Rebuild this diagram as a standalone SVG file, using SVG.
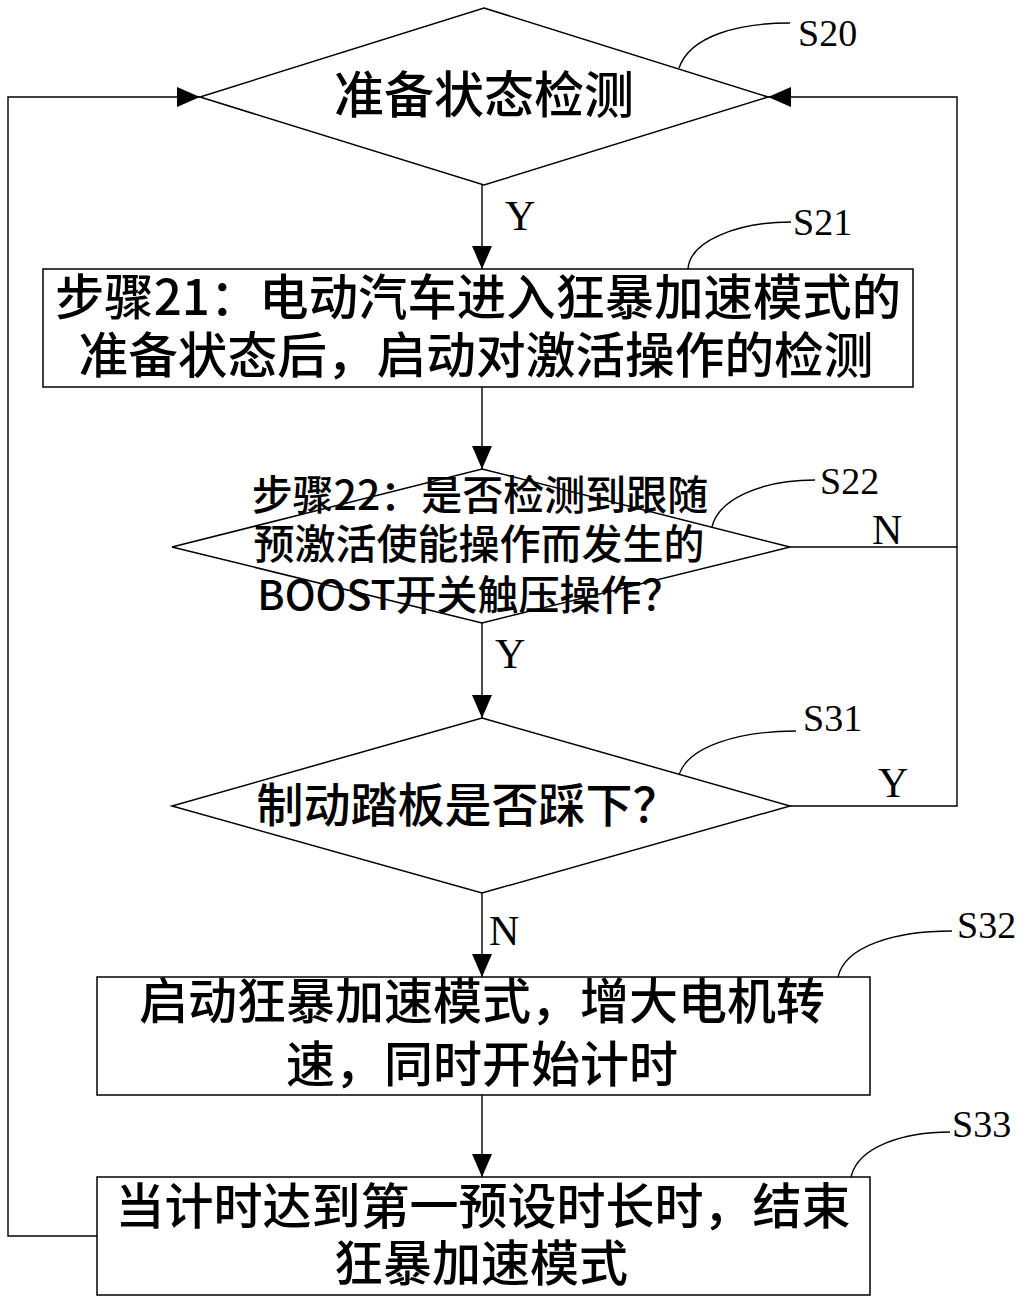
<svg xmlns="http://www.w3.org/2000/svg" width="1031" height="1303" viewBox="0 0 1031 1303">
<defs>
<marker id="arr" markerUnits="userSpaceOnUse" markerWidth="26" markerHeight="22" refX="23" refY="10" orient="auto">
<path d="M0,0 L23,10 L0,20 Z" fill="#000"/>
</marker>
<style>
.shape{fill:#fff;stroke:#000;stroke-width:1.5}
.conn{fill:none;stroke:#000;stroke-width:1.4}
.lead{fill:none;stroke:#000;stroke-width:1.4}
.zh{font-family:"Noto Sans CJK SC","Noto Sans",sans-serif;font-weight:500;fill:#000;text-anchor:middle}
.lbl{font-family:"Liberation Serif","Times New Roman",serif;fill:#000;font-size:38px}
.yn{font-family:"Liberation Serif","Times New Roman",serif;fill:#000;font-size:42px}
</style>
</defs>
<rect width="1031" height="1303" fill="#fff"/>

<g id="connectors">
<line class="conn" x1="482" y1="185" x2="482" y2="269" marker-end="url(#arr)"/>
<line class="conn" x1="482" y1="387" x2="482" y2="469" marker-end="url(#arr)"/>
<line class="conn" x1="482" y1="623" x2="482" y2="718" marker-end="url(#arr)"/>
<line class="conn" x1="482" y1="893" x2="482" y2="977" marker-end="url(#arr)"/>
<line class="conn" x1="482" y1="1095" x2="482" y2="1177" marker-end="url(#arr)"/>
<polyline class="conn" points="790,547 957,547 957,97 768,97" marker-end="url(#arr)"/>
<polyline class="conn" points="790,806 957,806 957,547"/>
<polyline class="conn" points="97,1236 8,1236 8,97 200,97" marker-end="url(#arr)"/>
<text class="yn" x="505" y="230">Y</text>
<text class="yn" x="872" y="544">N</text>
<text class="yn" x="495" y="668">Y</text>
<text class="yn" x="878" y="797">Y</text>
<text class="yn" x="489" y="945">N</text>
</g>

<g id="S20">
<polygon class="shape" points="484,8 768,97 484,185 200,97"/>
<text class="zh" x="484" y="113" font-size="50">准备状态检测</text>
<path class="lead" d="M679,68 C690,36 738,23 790,23"/>
<text class="lbl" x="798" y="46">S20</text>
</g>

<g id="S21">
<rect class="shape" x="43" y="269" width="870" height="118"/>
<text class="zh" x="478" y="315" font-size="49" textLength="846" lengthAdjust="spacingAndGlyphs">步骤21：电动汽车进入狂暴加速模式的</text>
<text class="zh" x="476" y="373" font-size="49" textLength="795" lengthAdjust="spacingAndGlyphs">准备状态后，启动对激活操作的检测</text>
<path class="lead" d="M688,269 C690,240 740,222 791,222"/>
<text class="lbl" x="793" y="235">S21</text>
</g>

<g id="S22">
<polygon class="shape" points="482,469 790,547 482,623 172,547"/>
<text class="zh" x="480" y="510" font-size="41">步骤22：是否检测到跟随</text>
<text class="zh" x="479" y="559" font-size="41">预激活使能操作而发生的</text>
<text class="zh" x="470" y="610" font-size="41">BOOST开关触压操作？</text>
<path class="lead" d="M712,527 C718,500 760,480 815,480"/>
<text class="lbl" x="820" y="494">S22</text>
</g>

<g id="S31">
<polygon class="shape" points="482,718 790,806 482,893 172,806"/>
<text class="zh" x="468" y="822" font-size="47">制动踏板是否踩下？</text>
<path class="lead" d="M679,775 C688,746 740,731 796,731"/>
<text class="lbl" x="803" y="731">S31</text>
</g>

<g id="S32">
<rect class="shape" x="97" y="977" width="773" height="118"/>
<text class="zh" x="482" y="1019" font-size="49">启动狂暴加速模式，增大电机转</text>
<text class="zh" x="482" y="1082" font-size="49">速，同时开始计时</text>
<path class="lead" d="M838,977 C845,946 895,931 952,931"/>
<text class="lbl" x="957" y="938">S32</text>
</g>

<g id="S33">
<rect class="shape" x="97" y="1177" width="773" height="118"/>
<text class="zh" x="483" y="1224" font-size="49">当计时达到第一预设时长时，结束</text>
<text class="zh" x="481" y="1281" font-size="49">狂暴加速模式</text>
<path class="lead" d="M851,1177 C858,1146 905,1132 950,1132"/>
<text class="lbl" x="952" y="1137">S33</text>
</g>
</svg>
